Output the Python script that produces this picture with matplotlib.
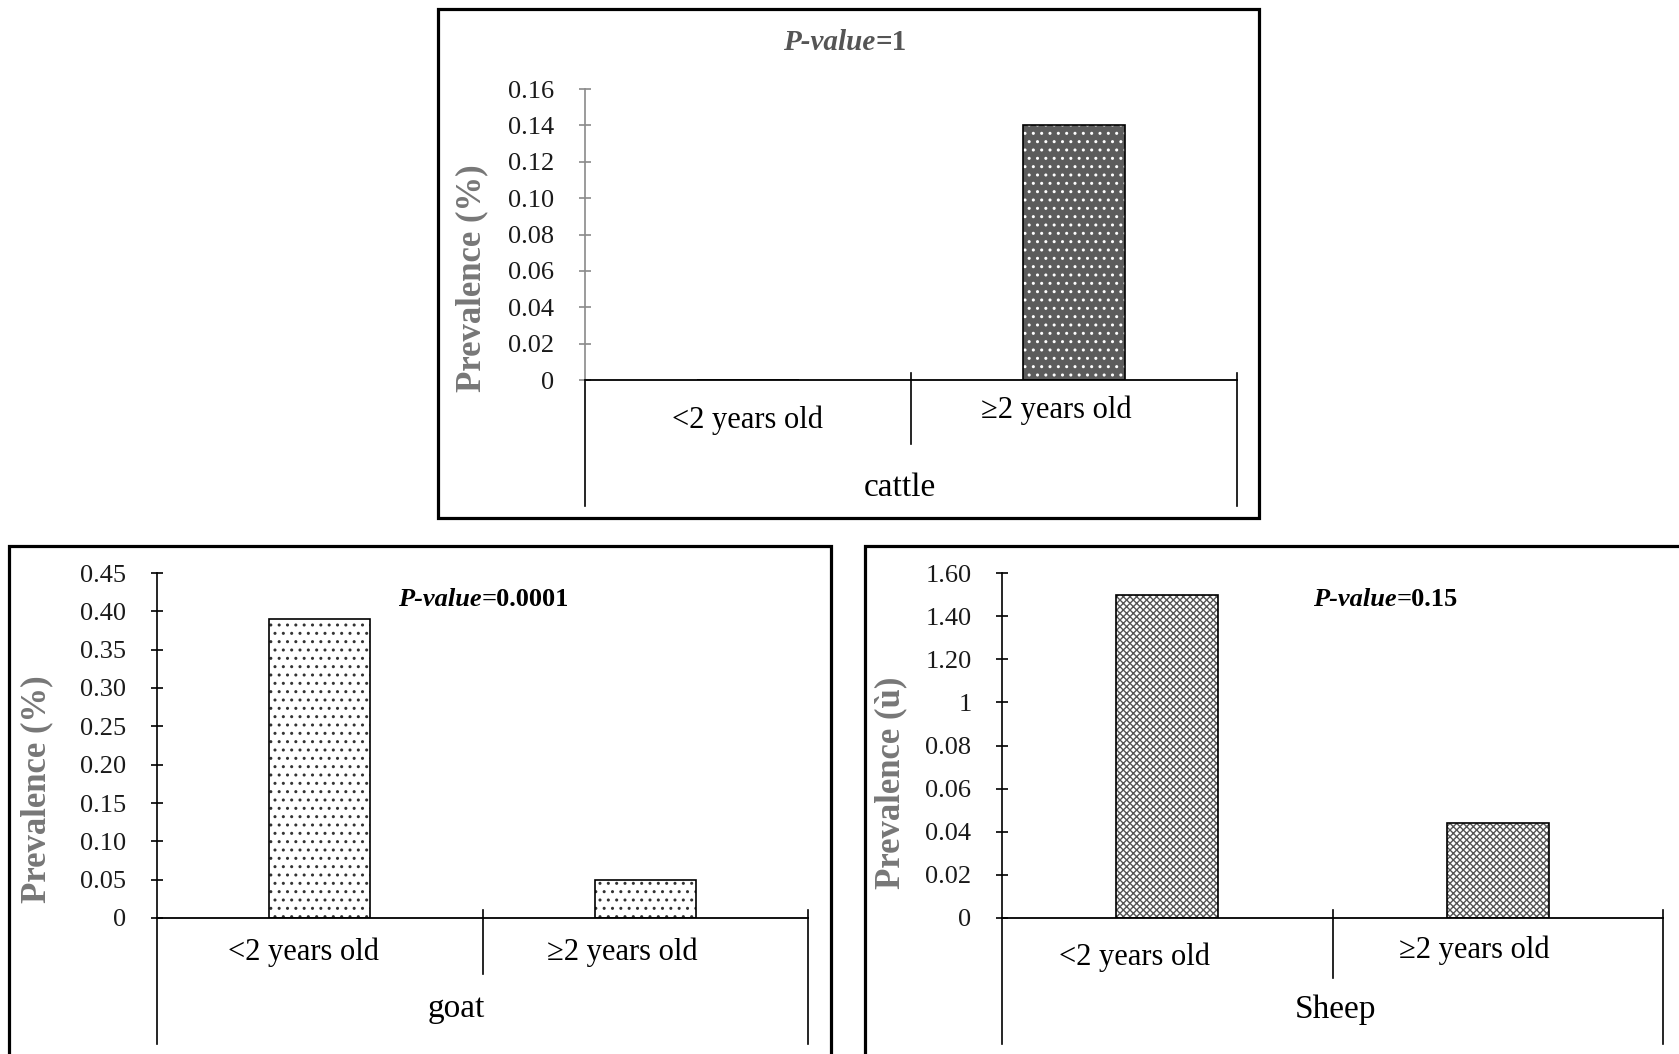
import numpy as np
import matplotlib
matplotlib.use('Agg')
import matplotlib.pyplot as plt
from matplotlib.patches import Rectangle

###############################################################################
# Data

ages = ['<2 years old', '\u22652 years old']

cattle_vals = [0.0, 0.14]
cattle_ticks = [0, 0.02, 0.04, 0.06, 0.08, 0.10, 0.12, 0.14, 0.16]
cattle_ticklabels = ['0', '0.02', '0.04', '0.06', '0.08', '0.10', '0.12', '0.14', '0.16']

goat_vals = [0.39, 0.05]
goat_ticks = [0, 0.05, 0.10, 0.15, 0.20, 0.25, 0.30, 0.35, 0.40, 0.45]
goat_ticklabels = ['0', '0.05', '0.10', '0.15', '0.20', '0.25', '0.30', '0.35', '0.40', '0.45']

# sheep axis is printed with odd labels, bars are in linear axis units
sheep_vals = [1.50, 0.44]
sheep_ticks = [0, 0.2, 0.4, 0.6, 0.8, 1.0, 1.2, 1.4, 1.6]
sheep_ticklabels = ['0', '0.02', '0.04', '0.06', '0.08', '1', '1.20', '1.40', '1.60']

pvals = ['=1', '=0.0001', '=0.15']

###############################################################################

W, H = 1679, 1054
plt.rcParams['font.family'] = ['Liberation Serif', 'DejaVu Serif']
plt.rcParams['hatch.linewidth'] = 1.0

fig = plt.figure(figsize=(W/100., H/100.), dpi=100)

def fx(x): return x/float(W)
def fy(y): return 1-y/float(H)

def frame(x0, y0, x1, y1):
    r = Rectangle((fx(x0), fy(y1)), fx(x1)-fx(x0), fy(y0)-fy(y1),
                  transform=fig.transFigure, fill=False, lw=2.3, ec='black',
                  clip_on=False)
    fig.add_artist(r)

def panel(box, vals, ticks, tlabels, face, hcol, hatch, spine_col,
          lab_pos, animal, animal_pos, outer_bot, sep_bot):
    l, t, r, b = box
    ax = fig.add_axes([fx(l), fy(b), fx(r)-fx(l), fy(t)-fy(b)])
    x = np.arange(len(vals))
    ax.bar(x, vals, width=0.31, color=face, edgecolor=hcol, hatch=hatch, lw=0)
    ax.bar(x, vals, width=0.31, fill=False, edgecolor='black', lw=1.2)
    ax.set_xlim(-0.5, 1.5)
    ax.set_ylim(0, ticks[-1])
    ax.set_yticks(ticks)
    ax.set_yticklabels(tlabels)
    ax.set_xticks([])
    for s in ['top', 'right']:
        ax.spines[s].set_visible(False)
    ax.spines['left'].set_color(spine_col)
    ax.spines['left'].set_linewidth(1.2)
    ax.spines['bottom'].set_color('black')
    ax.spines['bottom'].set_linewidth(1.3)
    ax.tick_params(axis='y', direction='inout', length=8, width=1.2,
                   color=spine_col, labelsize=19, labelcolor='#1a1a1a', pad=18)
    tr = ax.get_xaxis_transform()
    # category axis lines below zero
    ax.plot([-0.5, -0.5], [0, outer_bot], color='black', lw=1.2, transform=tr, clip_on=False)
    ax.plot([1.5, 1.5], [0.024, outer_bot], color='black', lw=1.2, transform=tr, clip_on=False)
    ax.plot([0.5, 0.5], [0.024, sep_bot], color='black', lw=1.2, transform=tr, clip_on=False)
    for lab, (lx, ly) in zip(ages, lab_pos):
        ax.text(lx, ly, lab, transform=tr, ha='center', va='center', fontsize=22)
    ax.text(animal_pos[0], animal_pos[1], animal, transform=tr, ha='center',
            va='center', fontsize=24)
    return ax

def ylab(x, y, txt='Prevalence (%)'):
    fig.text(fx(x), fy(y), txt, rotation=90, ha='center', va='center',
             fontsize=25, fontweight='bold', color='#777777')

def ptext(x, y, val, col, size=19):
    t1 = fig.text(fx(x), fy(y), 'P-value', ha='left', va='center', fontsize=size,
                  fontweight='bold', style='italic', color=col)
    fig.canvas.draw()
    bb = t1.get_window_extent(renderer=fig.canvas.get_renderer())
    fig.text(bb.x1/float(W), fy(y), val, ha='left', va='center', fontsize=size,
             fontweight='bold', color=col)

# cattle
frame(438, 9, 1259, 518)
panel((585, 89, 1237, 380), cattle_vals, cattle_ticks, cattle_ticklabels,
      '#5c5c5c', 'white', '..', '#8a8a8a',
      [(0.0, -0.137), (0.945, -0.103)], 'cattle', (0.466, -0.371), -0.433, -0.22)
ylab(472, 278)
ptext(783, 43, pvals[0], '#555555', 21)

# goat
frame(9, 546, 831, 1060)
panel((157, 573, 808, 918), goat_vals, goat_ticks, goat_ticklabels,
      'white', '#333333', '..', 'black',
      [(-0.05, -0.10), (0.93, -0.10)], 'goat', (0.42, -0.264), -0.365, -0.162)
ylab(37, 789)
ptext(398, 599, pvals[1], 'black')

# sheep
frame(865, 546, 1690, 1060)
panel((1002, 573, 1663, 918), sheep_vals, sheep_ticks, sheep_ticklabels,
      'white', '#555555', 'xxxxx', 'black',
      [(-0.1, -0.113), (0.928, -0.093)], 'Sheep', (0.508, -0.267), -0.365, -0.174)
ylab(891, 783, 'Prevalence (\u00f9)')
ptext(1313, 599, pvals[2], 'black')

fig.savefig('out.png', dpi=100)
